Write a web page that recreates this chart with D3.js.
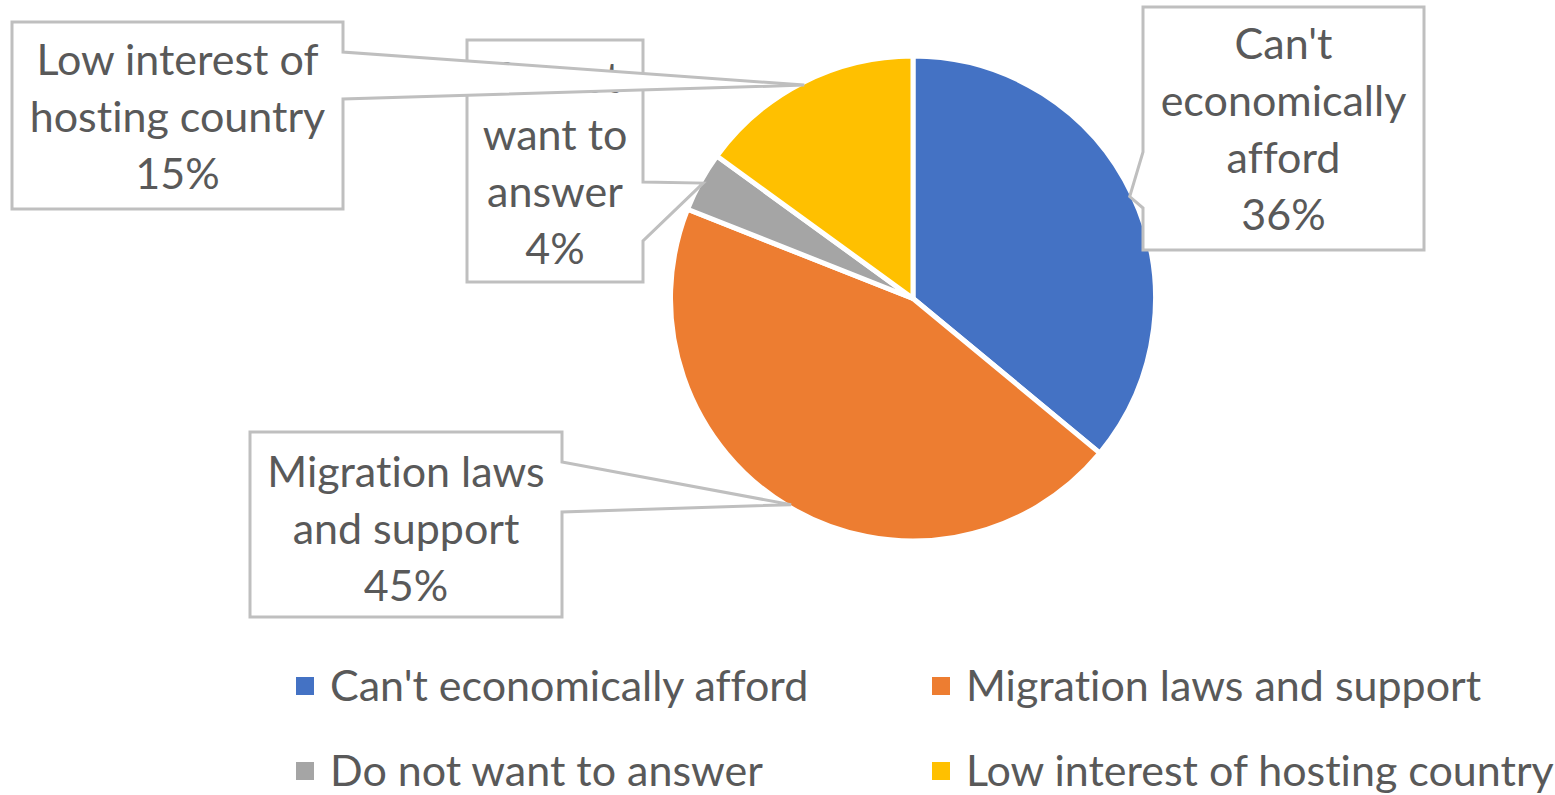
<!DOCTYPE html>
<html>
<head>
<meta charset="utf-8">
<script src="https://cdn.jsdelivr.net/npm/d3@7"></script>
<style>
  html, body { margin: 0; padding: 0; background: #fff; }
  svg { display: block; }
  text { font-family: Lato, "Open Sans", sans-serif; fill: #595959; font-variant-ligatures: none; }
</style>
</head>
<body>
<svg id="chart" width="1555" height="795"></svg>
<script>
// Reasons given, share of respondents (%)
const categories = [
  "Can't economically afford",
  "Migration laws and support",
  "Do not want to answer",
  "Low interest of hosting country"
];
const values = [36, 45, 4, 15];
const colors = ["#4472C4", "#ED7D31", "#A5A5A5", "#FFC000"];
// Wrapped lines of each callout label (value line appended below)
const labelLines = [
  ["Can't", "economically", "afford"],
  ["Migration laws", "and support"],
  ["Do not", "want to", "answer"],
  ["Low interest of", "hosting country"]
];

// Callout boxes: rectangle, side carrying the pointer, pointer base span
const callouts = [
  { x0: 1143, y0: 7,   x1: 1424, y1: 250, side: "left",  a: 152, b: 208, first: 59 },
  { x0: 250,  y0: 432, x1: 562,  y1: 617, side: "right", a: 462, b: 512, first: 487 },
  { x0: 467,  y0: 40,  x1: 643,  y1: 282, side: "right", a: 182, b: 241, first: 93 },
  { x0: 12,   y0: 22,  x1: 343,  y1: 209, side: "right", a: 52,  b: 99,  first: 75 }
];

const svg = d3.select("#chart");
const cx = 913, cy = 298.5, radius = 242.5;

const pie = d3.pie().sort(null).value(d => d)(values);
const arc = d3.arc().innerRadius(0).outerRadius(radius);

const g = svg.append("g").attr("transform", `translate(${cx},${cy})`);
g.selectAll("path.slice")
  .data(pie)
  .join("path")
  .attr("class", "slice")
  .attr("d", arc)
  .attr("fill", (d, i) => colors[i])
  .attr("stroke", "#fff")
  .attr("stroke-width", 5)
  .attr("stroke-linejoin", "round");

// Pointer tip: outer edge of each slice at its mid angle
const tipArc = d3.arc().innerRadius(radius - 3).outerRadius(radius - 3);
function calloutPath(c, tip) {
  const [tx, ty] = tip;
  if (c.side === "right") {
    return `M${c.x0},${c.y0} H${c.x1} V${c.a} L${tx},${ty} L${c.x1},${c.b} V${c.y1} H${c.x0} Z`;
  }
  return `M${c.x0},${c.y0} H${c.x1} V${c.y1} H${c.x0} V${c.b} L${tx},${ty} L${c.x0},${c.a} Z`;
}

const lineGap = 57;
const fontSize = 43;
// Draw order keeps the last callout on top of the earlier ones
[0, 1, 2, 3].forEach(i => {
  const c = callouts[i];
  const mid = tipArc.centroid(pie[i]);
  const tip = [cx + mid[0], cy + mid[1]];
  const grp = svg.append("g");
  grp.append("path")
    .attr("d", calloutPath(c, tip))
    .attr("fill", "#fff")
    .attr("stroke", "#BFBFBF")
    .attr("stroke-width", 3)
    .attr("stroke-linejoin", "miter");
  const lines = labelLines[i].concat([values[i] + "%"]);
  grp.selectAll("text")
    .data(lines)
    .join("text")
    .attr("x", (c.x0 + c.x1) / 2)
    .attr("y", (d, k) => c.first + k * lineGap)
    .attr("text-anchor", "middle")
    .attr("font-size", fontSize)
    .text(d => d);
});

// Legend, two columns by two rows
const legendCols = [296, 932];
const legendRows = [686, 771];
const legend = svg.append("g");
categories.forEach((name, i) => {
  const x = legendCols[i % 2];
  const y = legendRows[Math.floor(i / 2)];
  legend.append("rect")
    .attr("x", x).attr("y", y - 9)
    .attr("width", 18).attr("height", 18)
    .attr("fill", colors[i]);
  legend.append("text")
    .attr("x", x + 34)
    .attr("y", y)
    .attr("dy", "0.35em")
    .attr("font-size", 43)
    .text(name);
});
</script>
</body>
</html>
